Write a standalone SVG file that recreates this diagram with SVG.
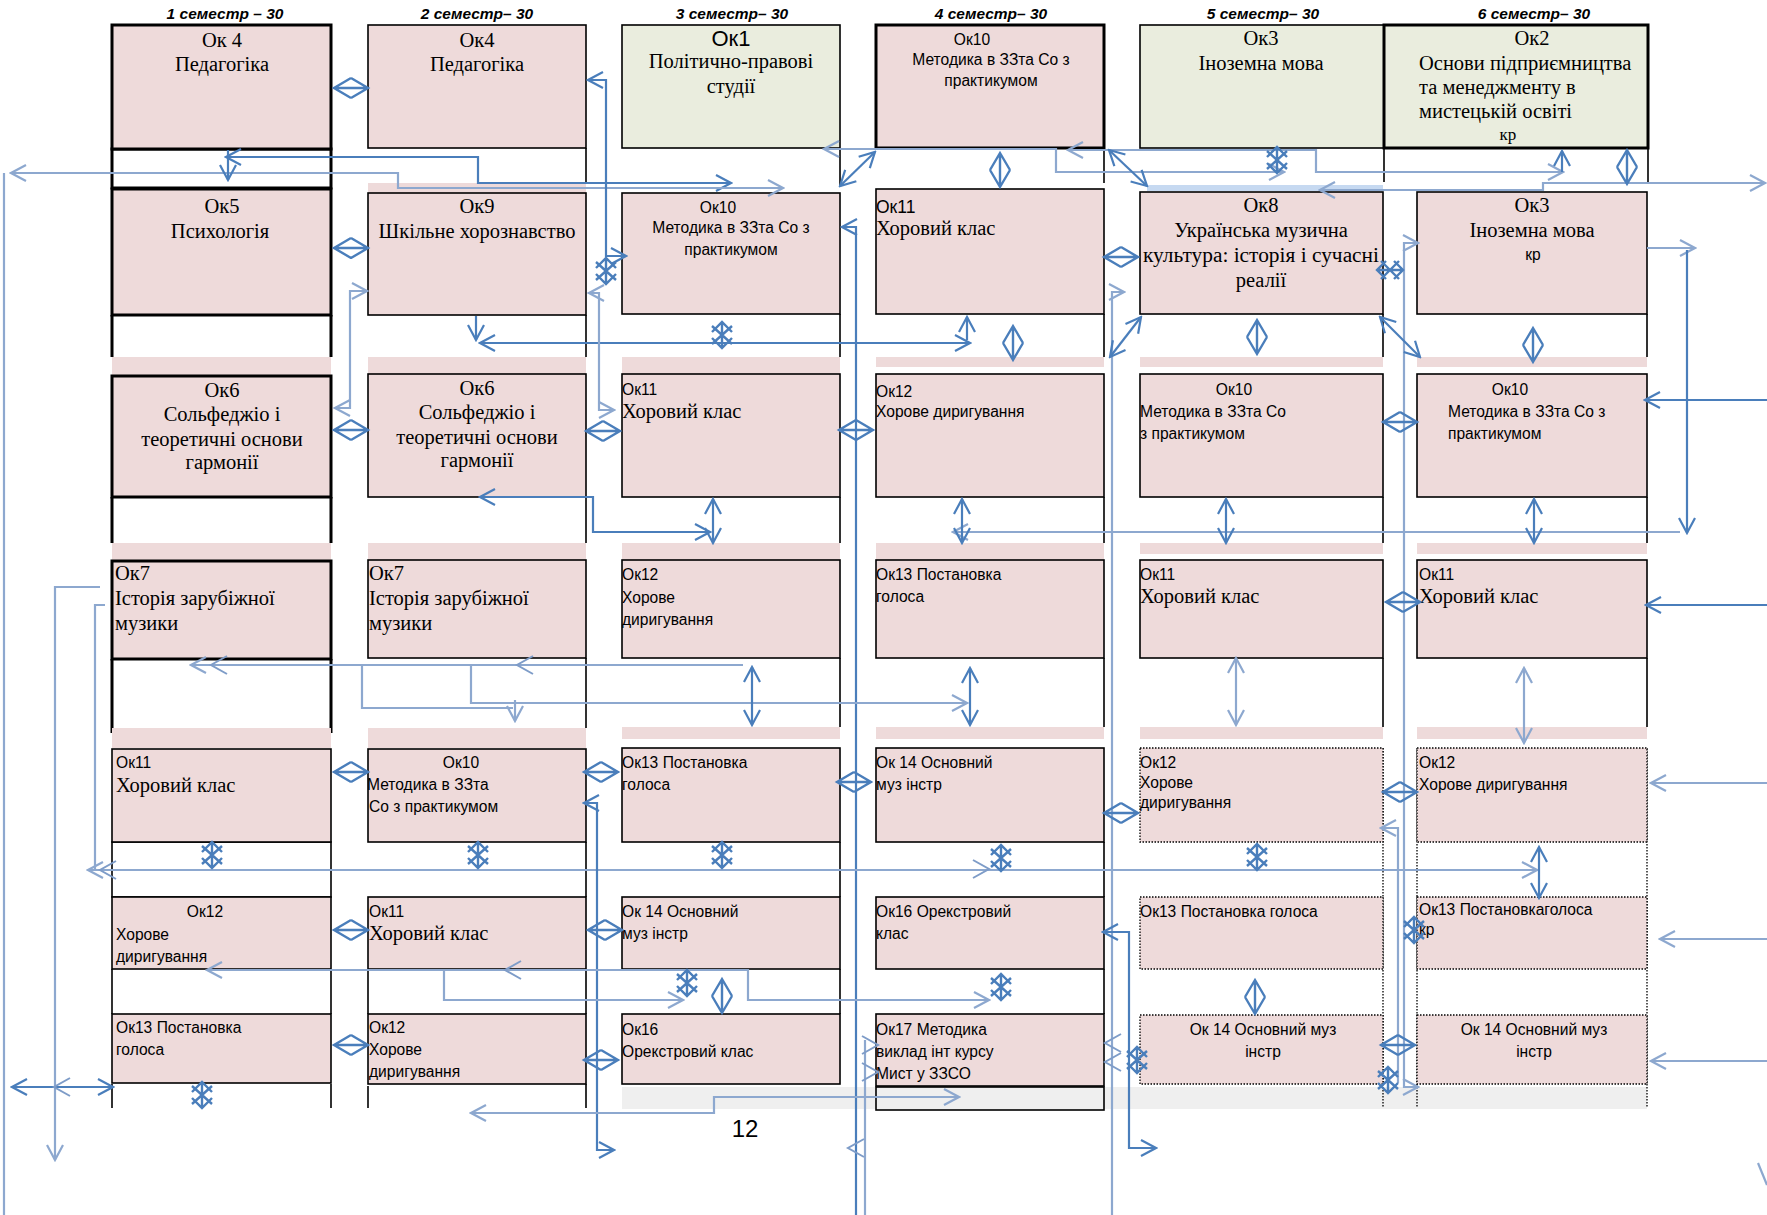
<svg xmlns="http://www.w3.org/2000/svg" xmlns:xlink="http://www.w3.org/1999/xlink" width="1767" height="1215" viewBox="0 0 1767 1215">
<style>
.pk{fill:#EEDADA}.gn{fill:#EAEDDE}
.bt{stroke:#000;stroke-width:3}.b{stroke:#000;stroke-width:1.6}.dt{stroke:#000;stroke-width:1.3;stroke-dasharray:1.5 1.5}
.se{font-family:"Liberation Serif",serif;font-size:20.5px;fill:#000}
.sa{font-family:"Liberation Sans",sans-serif;font-size:15.6px;fill:#000}
.hd{font-family:"Liberation Sans",sans-serif;font-size:15.5px;font-weight:bold;font-style:italic;fill:#000}
.m{text-anchor:middle}
.c{fill:none;stroke:#4A7EBB;stroke-width:2.2}
.p{fill:none;stroke:#8DA8CF;stroke-width:2.2}
.sym{fill:none;stroke:#4A7EBB;stroke-width:2.4}
.symp{fill:none;stroke:#7E9CC8;stroke-width:2}
</style>
<defs>
<marker id="a" viewBox="0 0 20 20" refX="18" refY="10" markerWidth="20" markerHeight="20" markerUnits="userSpaceOnUse" orient="auto-start-reverse"><path d="M3,2 L18,10 L3,18" fill="none" stroke="#4A7EBB" stroke-width="2.2"/></marker>
<marker id="ap" viewBox="0 0 20 20" refX="18" refY="10" markerWidth="20" markerHeight="20" markerUnits="userSpaceOnUse" orient="auto-start-reverse"><path d="M3,2 L18,10 L3,18" fill="none" stroke="#8DA8CF" stroke-width="2.2"/></marker>
<path id="dh" class="sym" d="M-17,0 H17 M0,-10 L-17,0 L0,10 M0,-10 L17,0 L0,10"/>
<path id="dv" class="sym" d="M0,-17 V17 M-10,0 L0,-17 L10,0 M-10,0 L0,17 L10,0"/>
<path id="st" class="sym" d="M0,-13 V13 M-10,-3 L0,-13 L10,-3 M-10,3 L0,13 L10,3 M-10,-9 L10,9 M10,-9 L-10,9"/>
<path id="sth" class="sym" d="M-13,0 H13 M-4,-9 L-13,0 L-4,9 M4,-9 L13,0 L4,9 M-9,-9 L9,9 M9,-9 L-9,9"/>
<path id="chL" class="symp" d="M16,-9 L0,0 L16,9"/>
<path id="chR" class="symp" d="M-16,-9 L0,0 L-16,9"/>
</defs>
<rect width="1767" height="1215" fill="#fff"/>

<g id="headers">
<text class="hd m" x="225" y="19">1 семестр – 30</text>
<text class="hd m" x="477" y="19">2 семестр– 30</text>
<text class="hd m" x="732" y="19">3 семестр– 30</text>
<text class="hd m" x="991" y="19">4 семестр– 30</text>
<text class="hd m" x="1263" y="19">5 семестр– 30</text>
<text class="hd m" x="1534" y="19">6 семестр– 30</text>
</g>

<g id="grid" fill="none">
<rect x="112" y="149" width="219" height="39" fill="#fff" class="bt"/>
<path class="bt" d="M112,315 V357 M331,315 V357 M112,497 V543 M331,497 V543 M112,659 V733 M331,659 V733"/>
<rect x="112" y="842" width="219" height="55" fill="#fff" class="b" stroke-width="2.2"/>
<path class="b" d="M112,969 V1014 M331,969 V1014 M112,1084 V1108 M331,1084 V1108"/>
<path class="b" stroke-width="2.4" d="M586,148 V183 M586,315 V357 M586,497 V543 M586,658 V728 M586,842 V897 M586,969 V1014 M368,969 V1014 M586,1084 V1108"/>
<path class="b" stroke="#999" d="M368,1086 V1108"/>
<path class="b" stroke-width="2.4" d="M840,148 V187 M840,314 V357 M840,497 V543 M840,658 V727 M840,842 V897 M840,969 V1014"/>
<path class="b" stroke-width="2.4" d="M1104,148 V183 M1104,314 V357 M1104,497 V543 M1104,658 V727 M1104,842 V897 M1104,969 V1014"/>
<path class="b" stroke-width="2.2" d="M1384,148 V182 M1648,148 V182 M1383,314 V357 M1647,314 V357 M1383,497 V543 M1647,497 V543 M1383,658 V727 M1647,658 V727"/>
<rect x="622" y="1087" width="1025" height="22" fill="#EFEFEF"/>
<rect x="876" y="1087" width="228" height="23" fill="#EFEFEF" class="b"/>
<path class="dt" d="M1383,748 V1108 M1647,748 V1108 M1417,748 V1108"/>
</g>

<g id="n1A"><rect x="112" y="25" width="219" height="124" class="pk bt"/><text class="se m" x="222" y="47">Ок 4</text><text class="se m" x="222" y="71">Педагогіка</text></g>
<g id="n1B"><rect x="112" y="189" width="219" height="126" class="pk bt"/><text class="se m" x="222" y="213">Ок5</text><text class="se m" x="220" y="238">Психологія</text></g>
<g id="n1C"><rect x="112" y="357" width="219" height="18" class="pk"/><rect x="112" y="376" width="219" height="121" class="pk bt"/><text class="se m" x="222" y="397">Ок6</text><text class="se m" x="222" y="421">Сольфеджіо і</text><text class="se m" x="222" y="446">теоретичні основи</text><text class="se m" x="222" y="469">гармонії</text></g>
<g id="n1D"><rect x="112" y="543" width="219" height="18" class="pk"/><rect x="112" y="561" width="219" height="98" class="pk bt"/><text class="se" x="115" y="580">Ок7</text><text class="se" x="115" y="605">Історія зарубіжної</text><text class="se" x="115" y="630">музики</text></g>
<g id="n1E"><rect x="112" y="728" width="219" height="20" class="pk"/><rect x="112" y="749" width="219" height="93" class="pk b" stroke-width="2.2"/><text class="sa" x="116" y="768">Ок11</text><text class="se" x="116" y="792">Хоровий клас</text></g>
<g id="n1F"><rect x="112" y="897" width="219" height="72" class="pk b" stroke-width="2.2"/><text class="sa m" x="205" y="917">Ок12</text><text class="sa" x="116" y="940">Хорове</text><text class="sa" x="116" y="962">диригування</text></g>
<g id="n1G"><rect x="112" y="1014" width="219" height="69" class="pk b" stroke-width="2.2"/><text class="sa" x="116" y="1033">Ок13 Постановка</text><text class="sa" x="116" y="1055">голоса</text></g>

<g id="n2A"><rect x="368" y="25" width="218" height="123" class="pk b" stroke-width="2.4"/><text class="se m" x="477" y="47">Ок4</text><text class="se m" x="477" y="71">Педагогіка</text></g>
<g id="n2B"><rect x="368" y="183" width="218" height="10" class="pk"/><rect x="368" y="193" width="218" height="122" class="pk b" stroke-width="2.4"/><text class="se m" x="477" y="213">Ок9</text><text class="se m" x="477" y="238">Шкільне хорознавство</text></g>
<g id="n2C"><rect x="368" y="357" width="218" height="17" class="pk"/><rect x="368" y="374" width="218" height="123" class="pk b"/><text class="se m" x="477" y="395">Ок6</text><text class="se m" x="477" y="419">Сольфеджіо і</text><text class="se m" x="477" y="444">теоретичні основи</text><text class="se m" x="477" y="467">гармонії</text></g>
<g id="n2D"><rect x="368" y="543" width="218" height="17" class="pk"/><rect x="368" y="560" width="218" height="98" class="pk b"/><text class="se" x="369" y="580">Ок7</text><text class="se" x="369" y="605">Історія зарубіжної</text><text class="se" x="369" y="630">музики</text></g>
<g id="n2E"><rect x="368" y="728" width="218" height="20" class="pk"/><rect x="368" y="749" width="218" height="93" class="pk b" stroke-width="2.2"/><text class="sa m" x="461" y="768">Ок10</text><text class="sa" x="367" y="790">Методика в ЗЗта</text><text class="sa" x="369" y="812">Со з практикумом</text></g>
<g id="n2F"><rect x="368" y="897" width="218" height="72" class="pk b" stroke-width="2.2"/><text class="sa" x="369" y="917">Ок11</text><text class="se" x="369" y="940">Хоровий клас</text></g>
<g id="n2G"><rect x="368" y="1014" width="218" height="70" class="pk b" stroke-width="2.2"/><text class="sa" x="369" y="1033">Ок12</text><text class="sa" x="369" y="1055">Хорове</text><text class="sa" x="369" y="1077">диригування</text></g>

<g id="n3A"><rect x="622" y="25" width="218" height="123" class="gn b" stroke-width="2.6"/><text class="sa m" x="731" y="46" style="font-size:22px">Ок1</text><text class="se m" x="731" y="68">Політично-правові</text><text class="se m" x="731" y="93">студії</text></g>
<g id="n3B"><rect x="622" y="193" width="218" height="121" class="pk b" stroke-width="2.6"/><text class="sa m" x="718" y="213">Ок10</text><text class="sa m" x="731" y="233">Методика в ЗЗта Со з</text><text class="sa m" x="731" y="255">практикумом</text></g>
<g id="n3C"><rect x="622" y="357" width="218" height="17" class="pk"/><rect x="622" y="374" width="218" height="123" class="pk b" stroke-width="1.2"/><text class="sa" x="622" y="395">Ок11</text><text class="se" x="622" y="418">Хоровий клас</text></g>
<g id="n3D"><rect x="622" y="543" width="218" height="17" class="pk"/><rect x="622" y="560" width="218" height="98" class="pk b" stroke-width="1.2"/><text class="sa" x="622" y="580">Ок12</text><text class="sa" x="622" y="603">Хорове</text><text class="sa" x="622" y="625">диригування</text></g>
<g id="n3E"><rect x="622" y="727" width="218" height="12" class="pk"/><rect x="622" y="748" width="218" height="94" class="pk b" stroke-width="1.2"/><text class="sa" x="622" y="768">Ок13 Постановка</text><text class="sa" x="622" y="790">голоса</text></g>
<g id="n3F"><rect x="622" y="897" width="218" height="72" class="pk b" stroke-width="1.2"/><text class="sa" x="622" y="917">Ок 14 Основний</text><text class="sa" x="622" y="939">муз інстр</text></g>
<g id="n3G"><rect x="622" y="1014" width="218" height="70" class="pk b" stroke-width="1.2"/><text class="sa" x="622" y="1035">Ок16</text><text class="sa" x="622" y="1057">Орекстровий клас</text></g>

<g id="n4A"><rect x="876" y="25" width="228" height="123" class="pk bt"/><text class="sa m" x="972" y="45">Ок10</text><text class="sa m" x="991" y="65">Методика в ЗЗта Со з</text><text class="sa m" x="991" y="86">практикумом</text></g>
<g id="n4B"><rect x="876" y="189" width="228" height="125" class="pk b" stroke-width="1.2"/><text class="sa" x="876" y="213" style="font-size:17.5px">Ок11</text><text class="se" x="876" y="235">Хоровий клас</text></g>
<g id="n4C"><rect x="876" y="357" width="228" height="10" class="pk"/><rect x="876" y="374" width="228" height="123" class="pk b" stroke-width="1.2"/><text class="sa" x="876" y="397">Ок12</text><text class="sa" x="876" y="417">Хорове диригування</text></g>
<g id="n4D"><rect x="876" y="543" width="228" height="17" class="pk"/><rect x="876" y="560" width="228" height="98" class="pk b" stroke-width="1.2"/><text class="sa" x="876" y="580">Ок13 Постановка</text><text class="sa" x="876" y="602">голоса</text></g>
<g id="n4E"><rect x="876" y="727" width="228" height="12" class="pk"/><rect x="876" y="748" width="228" height="94" class="pk b" stroke-width="1.2"/><text class="sa" x="876" y="768">Ок 14 Основний</text><text class="sa" x="876" y="790">муз інстр</text></g>
<g id="n4F"><rect x="876" y="897" width="228" height="72" class="pk b" stroke-width="1.2"/><text class="sa" x="876" y="917">Ок16 Орекстровий</text><text class="sa" x="876" y="939">клас</text></g>
<g id="n4G"><rect x="876" y="1014" width="228" height="72" class="pk b" stroke-width="1.8"/><text class="sa" x="876" y="1035">Ок17 Методика</text><text class="sa" x="876" y="1057">виклад інт курсу</text><text class="sa" x="876" y="1079">Мист у ЗЗСО</text></g>

<g id="n5A"><rect x="1140" y="25" width="244" height="123" class="gn b" stroke-width="2.6"/><text class="se m" x="1261" y="45">Ок3</text><text class="se m" x="1261" y="70">Іноземна мова</text></g>
<g id="n5B"><rect x="1140" y="192" width="243" height="122" class="pk b" stroke-width="2"/><text class="se m" x="1261" y="212">Ок8</text><text class="se m" x="1261" y="237">Українська музична</text><text class="se m" x="1261" y="262" textLength="236" lengthAdjust="spacingAndGlyphs">культура: історія і сучасні</text><text class="se m" x="1261" y="287">реалії</text></g>
<g id="n5C"><rect x="1140" y="357" width="243" height="10" class="pk"/><rect x="1140" y="374" width="243" height="123" class="pk b" stroke-width="1.2"/><text class="sa m" x="1234" y="395">Ок10</text><text class="sa" x="1140" y="417">Методика в ЗЗта Со</text><text class="sa" x="1140" y="439">з практикумом</text></g>
<g id="n5D"><rect x="1140" y="543" width="243" height="11" class="pk"/><rect x="1140" y="560" width="243" height="98" class="pk b" stroke-width="1.2"/><text class="sa" x="1140" y="580">Ок11</text><text class="se" x="1140" y="603">Хоровий клас</text></g>
<g id="n5E"><rect x="1140" y="727" width="243" height="12" class="pk"/><rect x="1140" y="748" width="243" height="94" class="pk dt"/><text class="sa" x="1140" y="768">Ок12</text><text class="sa" x="1140" y="788">Хорове</text><text class="sa" x="1140" y="808">диригування</text></g>
<g id="n5F"><rect x="1140" y="897" width="243" height="72" class="pk dt"/><text class="sa" x="1140" y="917">Ок13 Постановка голоса</text></g>
<g id="n5G"><rect x="1140" y="1015" width="243" height="69" class="pk dt"/><text class="sa m" x="1263" y="1035">Ок 14 Основний муз</text><text class="sa m" x="1263" y="1057">інстр</text></g>

<g id="n6A"><rect x="1384" y="25" width="264" height="123" class="gn bt"/><text class="se m" x="1532" y="45">Ок2</text><text class="se" x="1419" y="70">Основи підприємництва</text><text class="se" x="1419" y="94">та менеджменту в</text><text class="se" x="1419" y="118">мистецькій освіті</text><text class="se m" x="1508" y="140" style="font-size:17px">кр</text></g>
<g id="n6B"><rect x="1417" y="192" width="230" height="122" class="pk b" stroke-width="2"/><text class="se m" x="1532" y="212">Ок3</text><text class="se m" x="1532" y="237">Іноземна мова</text><text class="sa m" x="1533" y="260">кр</text></g>
<g id="n6C"><rect x="1417" y="357" width="230" height="10" class="pk"/><rect x="1417" y="374" width="230" height="123" class="pk b" stroke-width="1.2"/><text class="sa m" x="1510" y="395">Ок10</text><text class="sa" x="1448" y="417">Методика в ЗЗта Со з</text><text class="sa" x="1448" y="439">практикумом</text></g>
<g id="n6D"><rect x="1417" y="543" width="230" height="11" class="pk"/><rect x="1417" y="560" width="230" height="98" class="pk b" stroke-width="1.2"/><text class="sa" x="1419" y="580">Ок11</text><text class="se" x="1419" y="603">Хоровий клас</text></g>
<g id="n6E"><rect x="1417" y="727" width="230" height="12" class="pk"/><rect x="1417" y="748" width="230" height="94" class="pk dt"/><text class="sa" x="1419" y="768">Ок12</text><text class="sa" x="1419" y="790">Хорове диригування</text></g>
<g id="n6F"><rect x="1417" y="897" width="230" height="72" class="pk dt"/><text class="sa" x="1419" y="915">Ок13 Постановкаголоса</text><text class="sa" x="1419" y="935">кр</text></g>
<g id="n6G"><rect x="1417" y="1015" width="230" height="69" class="pk dt"/><text class="sa m" x="1534" y="1035">Ок 14 Основний муз</text><text class="sa m" x="1534" y="1057">інстр</text></g>

<text id="page" x="745" y="1137" font-family="Liberation Sans, sans-serif" font-size="24" text-anchor="middle">12</text>

<g id="connectors">
<rect x="1147" y="185" width="236" height="6" fill="#C6D9F1"/>
<path class="c" marker-start="url(#a)" marker-end="url(#a)" d="M226,157 H478 V183 H731"/>
<path class="p" marker-start="url(#ap)" marker-end="url(#ap)" d="M11,173 H398 V188 H783"/>
<path class="c" marker-end="url(#a)" d="M228,150 V180"/>
<path class="c" marker-start="url(#a)" marker-end="url(#a)" d="M588,80 H606 V256 H626"/>
<path class="p" marker-start="url(#ap)" marker-end="url(#ap)" d="M367,291 H350 V408 H335"/>
<path class="c" marker-end="url(#a)" d="M476,316 V340"/>
<path class="c" marker-start="url(#a)" marker-end="url(#a)" d="M480,343 H970"/>
<path class="c" marker-end="url(#a)" d="M967,340 V317"/>
<path class="p" marker-start="url(#ap)" marker-end="url(#ap)" d="M824,149 H1056 V172 H1284"/>
<path class="p" marker-start="url(#ap)" marker-end="url(#ap)" d="M1068,150 H1316 V172 H1563"/>
<path class="c" marker-end="url(#a)" d="M1562,172 V151"/>
<path class="c" marker-start="url(#a)" marker-end="url(#a)" d="M840,186 L875,152"/>
<path class="c" marker-start="url(#a)" marker-end="url(#a)" d="M1109,150 L1147,186"/>
<path class="p" marker-start="url(#ap)" marker-end="url(#ap)" d="M1320,190 H1543 V183 H1765"/>
<path class="p" marker-start="url(#ap)" marker-end="url(#ap)" d="M589,293 H599 V410 H614"/>
<path class="c" marker-end="url(#a)" d="M856,1215 V227 H842"/>
<path class="p" marker-end="url(#ap)" d="M1112,1215 V292 H1124"/>
<path class="c" marker-start="url(#a)" marker-end="url(#a)" d="M1110,357 L1141,317"/>
<path class="p" marker-start="url(#ap)" marker-end="url(#ap)" d="M1418,243 H1404 V1087 H1418"/>
<path class="c" marker-start="url(#a)" marker-end="url(#a)" d="M1380,317 L1420,357"/>
<path class="p" marker-end="url(#ap)" d="M1647,248 H1695"/>
<path class="c" marker-end="url(#a)" d="M1687,250 V533"/>
<path class="c" marker-end="url(#a)" d="M1767,400 H1645"/>
<path class="p" marker-start="url(#ap)" d="M953,532 H1680"/>
<path class="c" marker-start="url(#a)" marker-end="url(#a)" d="M480,497 H593 V532 H710"/>
<path class="c" marker-end="url(#a)" d="M1767,605 H1646"/>
<path class="p" marker-end="url(#ap)" d="M1767,783 H1651"/>
<path class="p" marker-end="url(#ap)" d="M1767,939 H1660"/>
<path class="p" marker-end="url(#ap)" d="M1767,1061 H1651"/>
<path class="p" d="M4,173 V1215"/>
<path class="p" marker-end="url(#ap)" d="M100,587 H55 V1160"/>
<path class="p" d="M105,605 H95 V870"/>
<path class="p" marker-start="url(#ap)" marker-end="url(#ap)" d="M88,870 H1537"/>
<use href="#chL" x="100" y="870"/>
<use href="#chR" x="989" y="869"/>
<path class="c" marker-start="url(#a)" marker-end="url(#a)" d="M12,1087 H113"/>
<use href="#chL" x="54" y="1087"/>
<path class="p" marker-start="url(#ap)" d="M191,665 H743"/>
<use href="#chL" x="211" y="665"/>
<use href="#chL" x="517" y="665"/>
<path class="p" marker-end="url(#ap)" d="M471,665 V703 H967"/>
<path class="p" d="M362,665 V708 H513"/>
<path class="p" marker-end="url(#ap)" d="M515,700 V721"/>
<path class="c" marker-start="url(#a)" marker-end="url(#a)" d="M584,803 H597 V1150 H614"/>
<path class="p" marker-start="url(#ap)" marker-end="url(#ap)" d="M207,970 H748 V1000 H989"/>
<path class="p" marker-end="url(#ap)" d="M444,970 V1000 H683"/>
<use href="#chL" x="505" y="970"/>
<path class="p" marker-start="url(#ap)" marker-end="url(#ap)" d="M471,1113 H714 V1097 H959"/>
<path class="c" marker-start="url(#a)" marker-end="url(#a)" d="M1103,932 H1129 V1148 H1156"/>
<path class="p" marker-start="url(#ap)" d="M1381,828 H1398 V1083"/>
<path class="p" d="M865,1040 V1215"/>
<use href="#chR" x="878" y="1045"/>
<use href="#chR" x="878" y="1072"/>
<use href="#chL" x="848" y="1148"/>
<use href="#chL" x="1105" y="1043"/>
<use href="#chL" x="1105" y="1062"/>
<path class="p" d="M1758,1163 L1767,1185"/>
<use href="#dh" x="351" y="88"/>
<use href="#dh" x="351" y="248"/>
<use href="#dh" x="351" y="430"/>
<use href="#dh" x="603" y="431"/>
<use href="#dh" x="856" y="430"/>
<use href="#dh" x="1121" y="257"/>
<use href="#dh" x="351" y="772"/>
<use href="#dh" x="601" y="772"/>
<use href="#dh" x="351" y="930"/>
<use href="#dh" x="605" y="930"/>
<use href="#dh" x="351" y="1045"/>
<use href="#dh" x="601" y="1060"/>
<use href="#dh" x="1400" y="422"/>
<use href="#dh" x="1403" y="602"/>
<use href="#dh" x="1400" y="792"/>
<use href="#dh" x="1121" y="813"/>
<use href="#dh" x="1398" y="1045"/>
<use href="#dh" x="854" y="782"/>
<use href="#sth" x="1390" y="270"/>
<use href="#dv" x="1000" y="170"/>
<use href="#dv" x="1627" y="167"/>
<use href="#dv" x="1257" y="337"/>
<use href="#dv" x="1533" y="345"/>
<use href="#dv" x="1255" y="997"/>
<use href="#dv" x="722" y="996"/>
<use href="#dv" x="1013" y="343"/>
<path class="c" marker-start="url(#a)" marker-end="url(#a)" d="M713,499 V543"/>
<path class="c" marker-start="url(#a)" marker-end="url(#a)" d="M962,499 V543"/>
<path class="c" marker-start="url(#a)" marker-end="url(#a)" d="M1226,499 V543"/>
<path class="c" marker-start="url(#a)" marker-end="url(#a)" d="M1534,499 V543"/>
<path class="c" marker-start="url(#a)" marker-end="url(#a)" d="M752,667 V725"/>
<path class="c" marker-start="url(#a)" marker-end="url(#a)" d="M970,668 V725"/>
<path class="p" marker-start="url(#ap)" marker-end="url(#ap)" d="M1236,658 V725"/>
<path class="p" marker-start="url(#ap)" marker-end="url(#ap)" d="M1524,668 V743"/>
<path class="c" marker-start="url(#a)" marker-end="url(#a)" d="M1539,847 V898"/>
<use href="#st" x="722" y="335"/>
<use href="#st" x="606" y="271"/>
<use href="#st" x="212" y="855"/>
<use href="#st" x="478" y="855"/>
<use href="#st" x="722" y="855"/>
<use href="#st" x="1001" y="858"/>
<use href="#st" x="1257" y="857"/>
<use href="#st" x="687" y="983"/>
<use href="#st" x="1001" y="987"/>
<use href="#st" x="202" y="1095"/>
<use href="#st" x="1277" y="160"/>
<use href="#st" x="1414" y="930"/>
<use href="#st" x="1137" y="1060"/>
<use href="#st" x="1388" y="1080"/>
</g>
</svg>
